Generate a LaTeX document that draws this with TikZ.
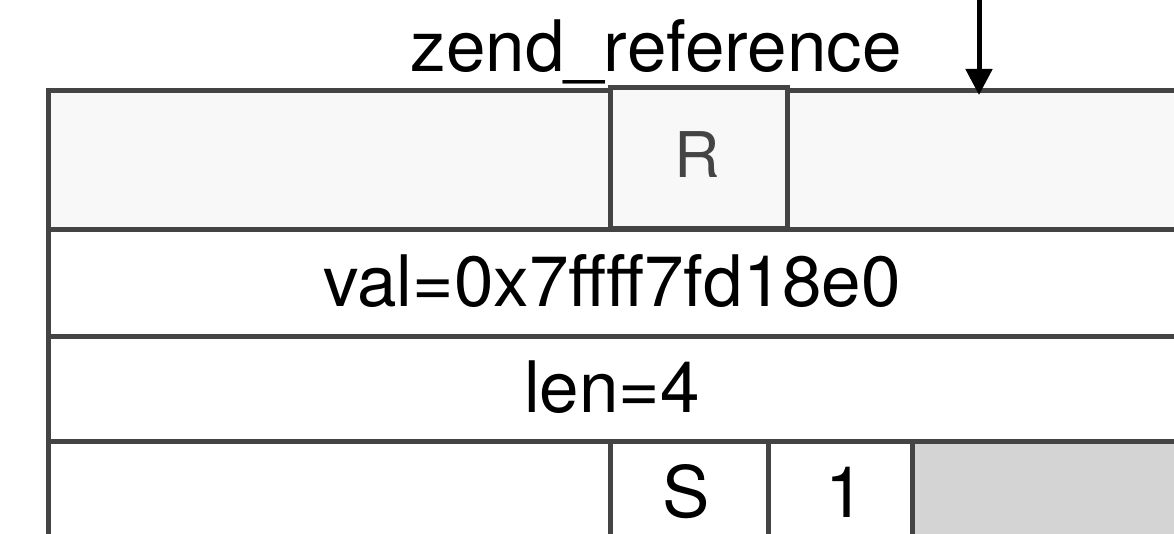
\documentclass[tikz,border=0pt]{standalone}
\usepackage{fontspec}
\setmainfont{TeX Gyre Heros}
\usetikzlibrary{arrows.meta}
\definecolor{linec}{HTML}{444444}
\definecolor{cellgray}{HTML}{D4D4D4}
\definecolor{toprow}{HTML}{F8F8F8}
\begin{document}
\begin{tikzpicture}[x=1pt,y=-1pt,
  cell/.style={draw=linec, line width=5pt, inner sep=0pt, outer sep=0pt, fill=white},
  lbl/.style={font=\fontsize{71}{71}\selectfont, inner sep=0pt, anchor=base, text=black},
  pointer/.style={-{Triangle[width=26pt,length=26pt]}, line width=5pt, draw=black},
]
\useasboundingbox (0,0) rectangle (1174,534);
% rows
\node[cell, fill=toprow, minimum width=1152pt, minimum height=139pt] (row1) at (624,160.5) {};
\node[cell, minimum width=1152pt, minimum height=106pt] (row2) at (624,283) {};
\node[cell, minimum width=1152pt, minimum height=105pt] (row3) at (624,388.5) {};
\node[cell, minimum width=1152pt, minimum height=105pt] (row4) at (624,493.5) {};
% top row cell
\node[cell, fill=toprow, minimum width=177pt, minimum height=141pt] (rbox) at (698.5,158.5) {};
% bottom row cells
\node[cell, minimum width=158pt, minimum height=105pt] (sbox) at (689,493.5) {};
\node[cell, minimum width=144pt, minimum height=105pt] (onebox) at (840,493.5) {};
\node[cell, fill=cellgray, minimum width=288pt, minimum height=105pt] (graybox) at (1056,493.5) {};
% texts
\node[lbl] (title) at (656,72) {zend\_reference};
\node[lbl, font=\fontsize{63}{63}\selectfont, text=linec] (rtxt) at (697,178) {R};
\node[lbl] (valtxt) at (612,307) {val=0x7ffff7fd18e0};
\node[lbl] (lentxt) at (612,412) {len=4};
\node[lbl] (stxt) at (686,517) {S};
\node[lbl] (onetxt) at (845,517) {1};
% pointer
\coordinate (src) at (979,-5);
\coordinate (tgt) at (979,95);
\draw[pointer] (src) -- (tgt);
\end{tikzpicture}
\end{document}
